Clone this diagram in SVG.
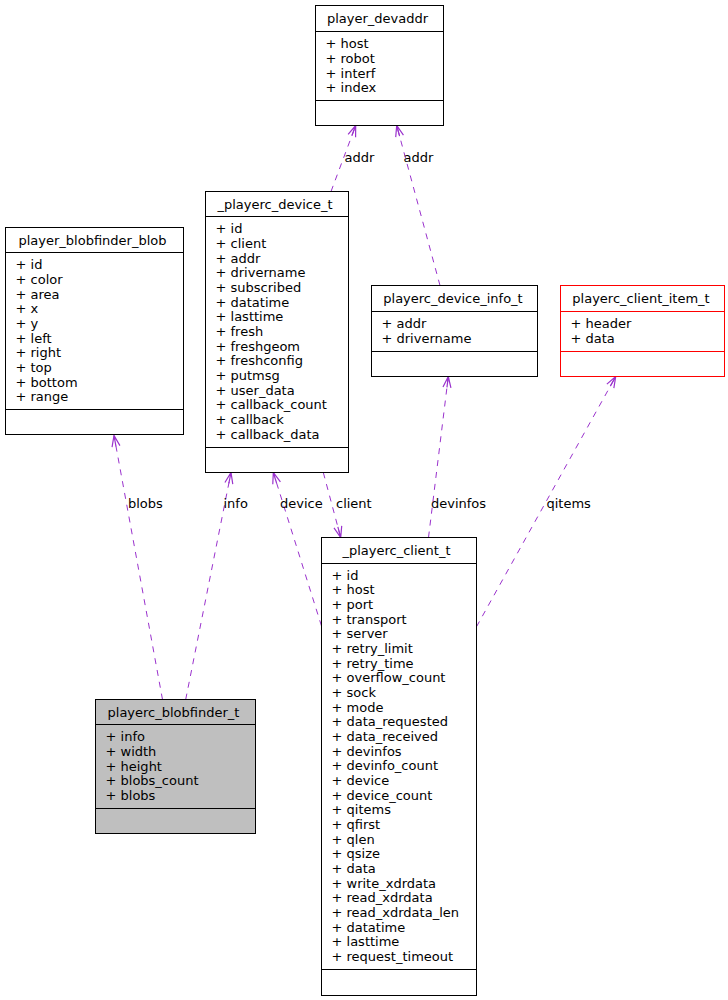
<svg xmlns="http://www.w3.org/2000/svg" width="728" height="1000" viewBox="0 0 728 1000">
<style>
text{font-family:"DejaVu Sans","Liberation Sans",sans-serif;font-size:13px;fill:#000}
.box{fill:#fff;stroke:#000;stroke-width:1}
.sep{stroke:#000;stroke-width:1}
.red .box,.red .sep{stroke:#ff0000}
.gray .box{fill:#bfbfbf}
.t{text-anchor:middle}
.e{fill:none;stroke:#9a32cd;stroke-width:1;stroke-dasharray:6,6}
</style>
<defs>
<marker id="arr" markerUnits="userSpaceOnUse" orient="auto" refX="0" refY="0" markerWidth="20" markerHeight="20" overflow="visible">
<path d="M-11,-4 L0,0 L-11,4 M-11,0 L0,0" fill="none" stroke="#9a32cd" stroke-width="1.2"/>
</marker>
</defs>
<rect width="728" height="1000" fill="#fff"/>
<g id="connectors">
<line class="e" x1="331" y1="191.5" x2="355.7" y2="125.5" marker-end="url(#arr)"/>
<line class="e" x1="440" y1="285.5" x2="396.7" y2="125.5" marker-end="url(#arr)"/>
<line class="e" x1="162.5" y1="699.5" x2="114" y2="435.5" marker-end="url(#arr)"/>
<line class="e" x1="185.7" y1="699.5" x2="231" y2="472.5" marker-end="url(#arr)"/>
<line class="e" x1="321.5" y1="626" x2="273.3" y2="472.5" marker-end="url(#arr)"/>
<line class="e" x1="323.3" y1="472.5" x2="340.7" y2="537.5" marker-end="url(#arr)"/>
<line class="e" x1="428.5" y1="537.5" x2="448.3" y2="376.5" marker-end="url(#arr)"/>
<line class="e" x1="476.5" y1="626.7" x2="615.7" y2="376.5" marker-end="url(#arr)"/>
<text x="344.5" y="161.5">addr</text>
<text x="403.5" y="161.5">addr</text>
<text x="128" y="508">blobs</text>
<text x="223.5" y="508">info</text>
<text x="280" y="508">device</text>
<text x="336" y="508">client</text>
<text x="431" y="508">devinfos</text>
<text x="546.5" y="508">qitems</text>
</g>
<g id="player_devaddr">
<rect class="box" x="315.5" y="5.5" width="128" height="120"/>
<line class="sep" x1="315.5" y1="31.5" x2="443.5" y2="31.5"/>
<line class="sep" x1="315.5" y1="100.5" x2="443.5" y2="100.5"/>
<text class="t" x="377.5" y="23.3">player_devaddr</text>
<text x="325.5" y="48.3">+ host</text>
<text x="325.5" y="63">+ robot</text>
<text x="325.5" y="77.6">+ interf</text>
<text x="325.5" y="92.3">+ index</text>
</g>
<g id="player_blobfinder_blob">
<rect class="box" x="5.5" y="227.5" width="178" height="207"/>
<line class="sep" x1="5.5" y1="252.5" x2="183.5" y2="252.5"/>
<line class="sep" x1="5.5" y1="409.5" x2="183.5" y2="409.5"/>
<text class="t" x="92.5" y="245">player_blobfinder_blob</text>
<text x="15.5" y="269.3">+ id</text>
<text x="15.5" y="284">+ color</text>
<text x="15.5" y="298.6">+ area</text>
<text x="15.5" y="313.3">+ x</text>
<text x="15.5" y="328">+ y</text>
<text x="15.5" y="342.6">+ left</text>
<text x="15.5" y="357.3">+ right</text>
<text x="15.5" y="372">+ top</text>
<text x="15.5" y="386.7">+ bottom</text>
<text x="15.5" y="401.3">+ range</text>
</g>
<g id="playerc_device_t">
<rect class="box" x="205.5" y="191.5" width="143" height="281"/>
<line class="sep" x1="205.5" y1="216.5" x2="348.5" y2="216.5"/>
<line class="sep" x1="205.5" y1="447.5" x2="348.5" y2="447.5"/>
<text class="t" x="275" y="209.2">_playerc_device_t</text>
<text x="215.5" y="233.3">+ id</text>
<text x="215.5" y="248">+ client</text>
<text x="215.5" y="262.6">+ addr</text>
<text x="215.5" y="277.3">+ drivername</text>
<text x="215.5" y="292">+ subscribed</text>
<text x="215.5" y="306.6">+ datatime</text>
<text x="215.5" y="321.3">+ lasttime</text>
<text x="215.5" y="336">+ fresh</text>
<text x="215.5" y="350.7">+ freshgeom</text>
<text x="215.5" y="365.3">+ freshconfig</text>
<text x="215.5" y="380">+ putmsg</text>
<text x="215.5" y="394.7">+ user_data</text>
<text x="215.5" y="409.3">+ callback_count</text>
<text x="215.5" y="424">+ callback</text>
<text x="215.5" y="438.7">+ callback_data</text>
</g>
<g id="playerc_device_info_t">
<rect class="box" x="371.5" y="285.5" width="166" height="91"/>
<line class="sep" x1="371.5" y1="311.5" x2="537.5" y2="311.5"/>
<line class="sep" x1="371.5" y1="351.5" x2="537.5" y2="351.5"/>
<text class="t" x="453" y="303.2">playerc_device_info_t</text>
<text x="381.5" y="328.3">+ addr</text>
<text x="381.5" y="343">+ drivername</text>
</g>
<g id="playerc_client_item_t" class="red">
<rect class="box" x="560.5" y="285.5" width="164" height="91"/>
<line class="sep" x1="560.5" y1="311.5" x2="724.5" y2="311.5"/>
<line class="sep" x1="560.5" y1="351.5" x2="724.5" y2="351.5"/>
<text class="t" x="641" y="303.2">playerc_client_item_t</text>
<text x="570.5" y="328.3">+ header</text>
<text x="570.5" y="343">+ data</text>
</g>
<g id="playerc_blobfinder_t" class="gray">
<rect class="box" x="95.5" y="699.5" width="160" height="134"/>
<line class="sep" x1="95.5" y1="724.5" x2="255.5" y2="724.5"/>
<line class="sep" x1="95.5" y1="808.5" x2="255.5" y2="808.5"/>
<text class="t" x="173.5" y="717.2">playerc_blobfinder_t</text>
<text x="105.5" y="741.3">+ info</text>
<text x="105.5" y="756">+ width</text>
<text x="105.5" y="770.6">+ height</text>
<text x="105.5" y="785.3">+ blobs_count</text>
<text x="105.5" y="800">+ blobs</text>
</g>
<g id="playerc_client_t">
<rect class="box" x="321.5" y="537.5" width="155" height="458"/>
<line class="sep" x1="321.5" y1="563.5" x2="476.5" y2="563.5"/>
<line class="sep" x1="321.5" y1="969.5" x2="476.5" y2="969.5"/>
<text class="t" x="396.5" y="555.2">_playerc_client_t</text>
<text x="331.5" y="579.5">+ id</text>
<text x="331.5" y="594.2">+ host</text>
<text x="331.5" y="608.8">+ port</text>
<text x="331.5" y="623.5">+ transport</text>
<text x="331.5" y="638.2">+ server</text>
<text x="331.5" y="652.8">+ retry_limit</text>
<text x="331.5" y="667.5">+ retry_time</text>
<text x="331.5" y="682.2">+ overflow_count</text>
<text x="331.5" y="696.9">+ sock</text>
<text x="331.5" y="711.5">+ mode</text>
<text x="331.5" y="726.2">+ data_requested</text>
<text x="331.5" y="740.9">+ data_received</text>
<text x="331.5" y="755.5">+ devinfos</text>
<text x="331.5" y="770.2">+ devinfo_count</text>
<text x="331.5" y="784.9">+ device</text>
<text x="331.5" y="799.5">+ device_count</text>
<text x="331.5" y="814.2">+ qitems</text>
<text x="331.5" y="828.9">+ qfirst</text>
<text x="331.5" y="843.6">+ qlen</text>
<text x="331.5" y="858.2">+ qsize</text>
<text x="331.5" y="872.9">+ data</text>
<text x="331.5" y="887.6">+ write_xdrdata</text>
<text x="331.5" y="902.2">+ read_xdrdata</text>
<text x="331.5" y="916.9">+ read_xdrdata_len</text>
<text x="331.5" y="931.6">+ datatime</text>
<text x="331.5" y="946.2">+ lasttime</text>
<text x="331.5" y="960.9">+ request_timeout</text>
</g>
</svg>
